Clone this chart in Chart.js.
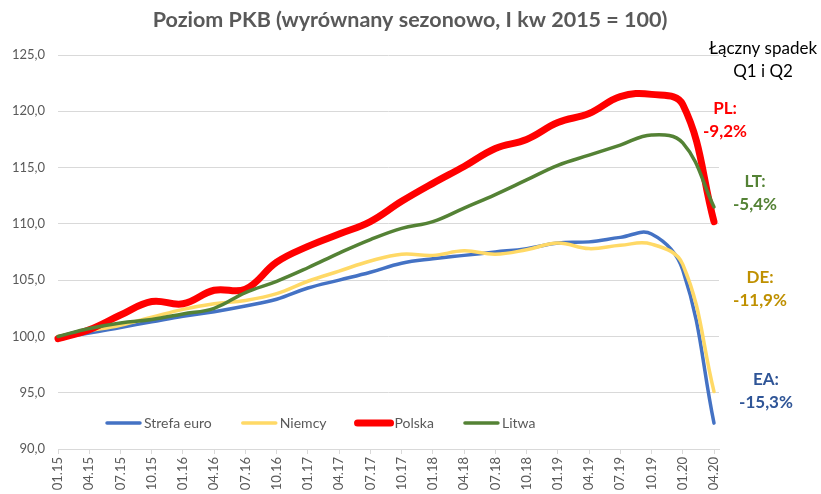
<!DOCTYPE html>
<html>
<head>
<meta charset="utf-8">
<script src="https://cdn.jsdelivr.net/npm/chart.js@4.4.1/dist/chart.umd.min.js"></script>
<style>
  html, body { margin: 0; padding: 0; background: #fff; }
  #wrap { width: 821px; height: 494px; }
</style>
</head>
<body>
<div id="wrap"><canvas id="c" width="821" height="494"></canvas></div>
<script>
// quarter labels (month.year of quarter start)
const quarters = ['01.15','04.15','07.15','10.15','01.16','04.16','07.16','10.16','01.17','04.17','07.17',
                  '10.17','01.18','04.18','07.18','10.18','01.19','04.19','07.19','10.19','01.20','04.20'];

// GDP level, seasonally adjusted, Q1 2015 = 100
const strefaEuro = [99.9,100.3,100.8,101.3,101.8,102.2,102.7,103.3,104.3,105.0,105.7,106.5,
                    106.9,107.2,107.5,107.8,108.3,108.4,108.8,109.1,105.9,92.3];
const niemcy     = [100.0,100.5,101.0,101.7,102.4,102.9,103.2,103.8,104.9,105.8,106.7,107.3,
                    107.2,107.6,107.3,107.7,108.3,107.8,108.1,108.2,106.4,95.1];
const polska     = [99.8,100.6,101.9,103.1,102.9,104.1,104.2,106.6,108.0,109.1,110.2,112.0,
                    113.6,115.1,116.7,117.5,119.0,119.8,121.3,121.5,120.6,110.2];
const litwa      = [100.0,100.7,101.2,101.5,102.0,102.5,103.9,104.9,106.1,107.4,108.6,109.6,
                    110.2,111.4,112.6,113.9,115.2,116.1,117.0,117.9,117.2,111.5];

const yTicks = [90, 95, 100, 105, 110, 115, 120, 125];

const title = 'Poziom PKB (wyrównany sezonowo, I kw 2015 = 100)';

// side notes: total drop in Q1 and Q2
const notes = [
  { text: ['Łączny spadek', 'Q1 i Q2'], color: '#000000', bold: false, x: 763, y: 49 },
  { text: ['PL:', '-9,2%'],  color: '#FF0000', bold: true, x: 725, y: 109 },
  { text: ['LT:', '-5,4%'],  color: '#548235', bold: true, x: 755, y: 182 },
  { text: ['DE:', '-11,9%'], color: '#BF9000', bold: true, x: 760, y: 278 },
  { text: ['EA:', '-15,3%'], color: '#2F5597', bold: true, x: 766, y: 380 }
];

const FONT = 'Lato, "Open Sans", sans-serif';
const grey = '#595959';
const gridGrey = '#D9D9D9';

function pts(arr){ return arr.map((v,i) => ({ x: i, y: v })); }

function line(label, arr, color, width, order){
  return { label: label, data: pts(arr), borderColor: color, backgroundColor: color,
           borderWidth: width, pointRadius: 0, tension: 0.4, borderCapStyle: 'round',
           borderJoinStyle: 'round', fill: false, clip: false, order: order };
}

const extras = {
  id: 'extras',
  afterDatasetsDraw(chart){
    const ctx = chart.ctx, area = chart.chartArea;
    ctx.save();
    // title, centred over the whole picture
    ctx.font = 'bold 21.5px ' + FONT;
    ctx.fillStyle = grey;
    ctx.textAlign = 'center';
    ctx.textBaseline = 'middle';
    ctx.fillText(title, 410, 20);

    // legend inside plot area
    ctx.font = '14px ' + FONT;
    ctx.textAlign = 'left';
    let x = area.left + 49;
    const y = 423;
    chart.data.datasets.forEach(function(ds){
      ctx.strokeStyle = ds.borderColor;
      ctx.lineWidth = ds.borderWidth;
      ctx.lineCap = 'round';
      ctx.beginPath(); ctx.moveTo(x, y); ctx.lineTo(x + 33, y); ctx.stroke();
      ctx.fillStyle = grey;
      ctx.fillText(ds.label, x + 37, y);
      x += 37 + ctx.measureText(ds.label).width + 31;
    });

    // notes on the right
    ctx.textAlign = 'center';
    notes.forEach(function(n){
      ctx.font = (n.bold ? 'bold 17px ' : '17px ') + FONT;
      ctx.fillStyle = n.color;
      n.text.forEach(function(t, k){ ctx.fillText(t, n.x, n.y + k * 23); });
    });
    ctx.restore();
  }
};

new Chart(document.getElementById('c'), {
  type: 'line',
  data: {
    datasets: [
      line('Strefa euro', strefaEuro, '#4472C4', 3.5, 4),
      line('Niemcy', niemcy, '#FFD966', 3.5, 3),
      line('Polska', polska, '#FF0000', 7, 2),
      line('Litwa', litwa, '#548235', 3.5, 1)
    ]
  },
  options: {
    responsive: false,
    animation: false,
    devicePixelRatio: 1,
    layout: { padding: { left: 0, right: 102, top: 55, bottom: 0 } },
    plugins: {
      legend: { display: false },
      tooltip: { enabled: false },
      title: { display: false }
    },
    scales: {
      x: {
        type: 'linear',
        min: 0,
        max: 21.16,
        afterFit: function(s){ s.height = 45; },
        grid: { drawOnChartArea: false, drawTicks: true, tickLength: 5, color: gridGrey },
        border: { color: gridGrey },
        ticks: {
          stepSize: 1, includeBounds: false, autoSkip: false, maxTicksLimit: 40,
          minRotation: 90, maxRotation: 90, padding: 3,
          color: grey, font: { family: FONT, size: 13 },
          callback: function(v){ return quarters[v] !== undefined ? quarters[v] : ''; }
        }
      },
      y: {
        min: yTicks[0],
        max: yTicks[yTicks.length - 1],
        afterFit: function(s){ s.width = 58; },
        grid: { color: gridGrey, drawTicks: false },
        border: { display: false },
        ticks: {
          stepSize: 5, padding: 13,
          color: grey, font: { family: FONT, size: 13 },
          callback: function(v){ return v.toFixed(1).replace('.', ','); }
        }
      }
    }
  },
  plugins: [extras]
});
</script>
</body>
</html>
